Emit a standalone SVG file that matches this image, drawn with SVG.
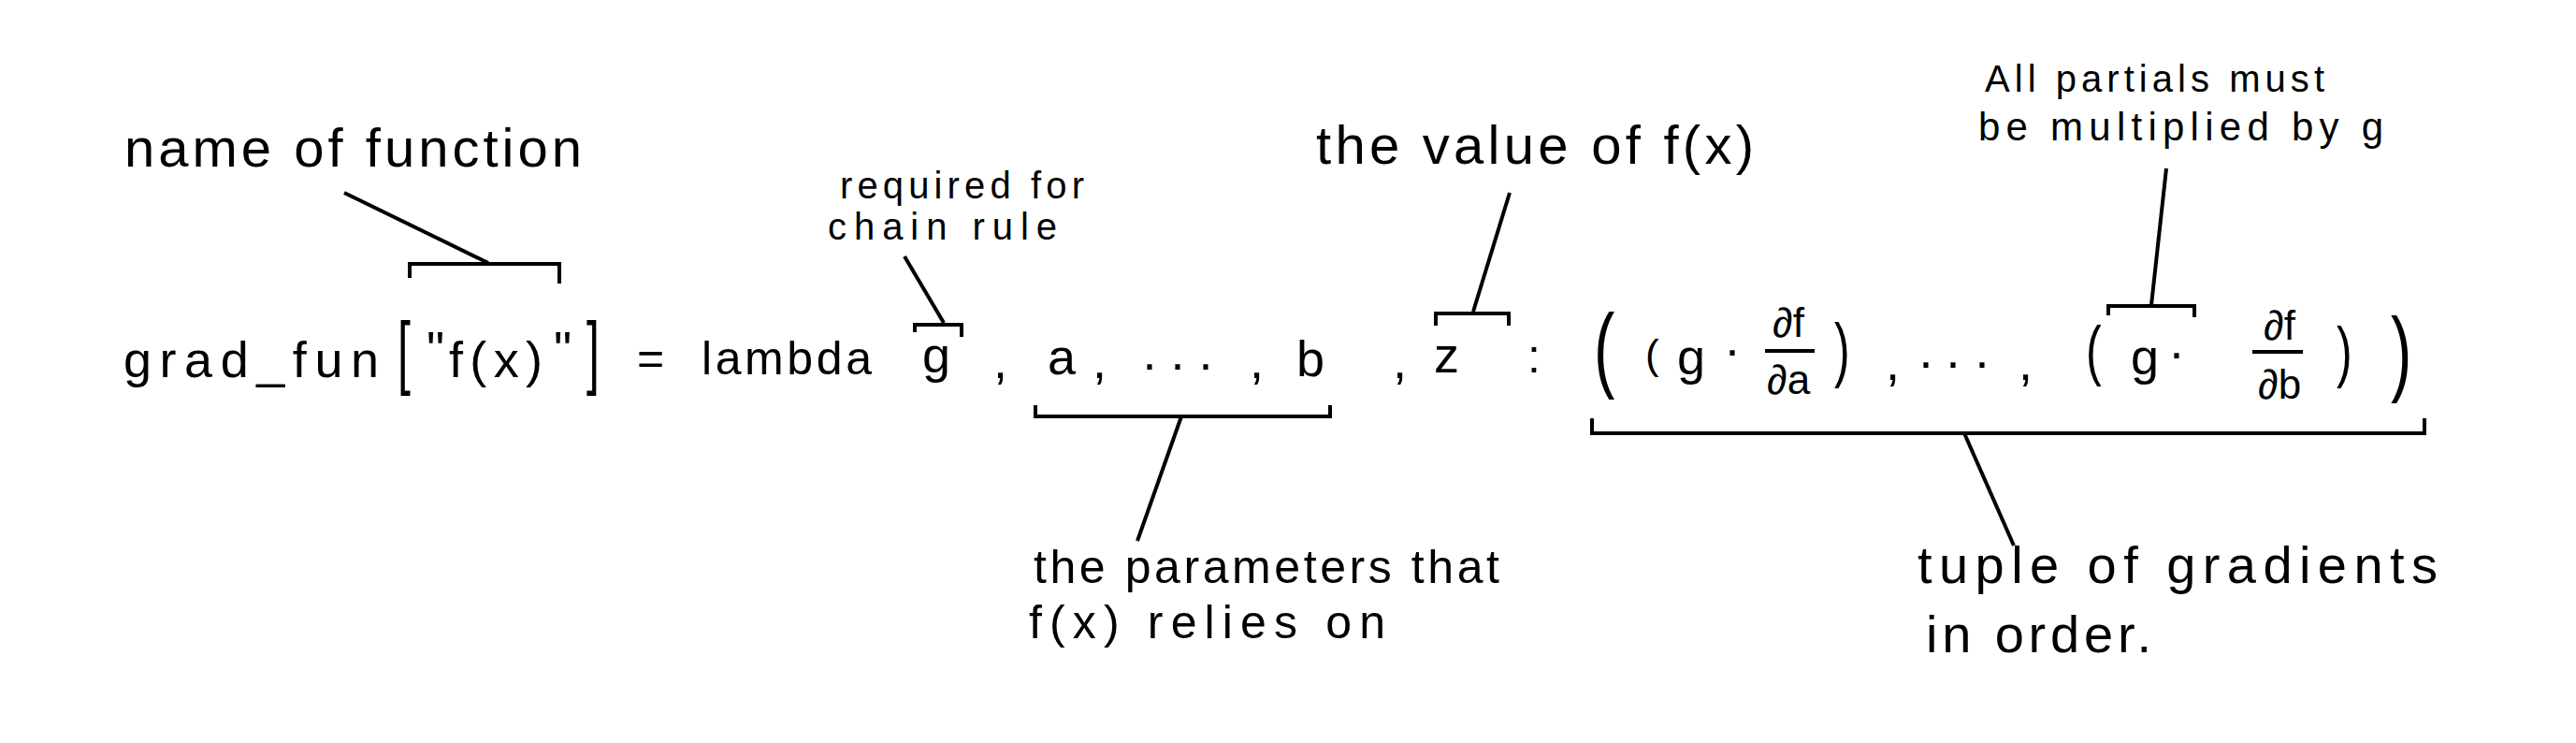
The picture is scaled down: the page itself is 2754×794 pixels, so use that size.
<svg xmlns="http://www.w3.org/2000/svg" width="2754" height="794" viewBox="0 0 2754 794">
<style>
.t{font-family:"Liberation Sans",Arial,sans-serif;fill:#000;}
.f{font-size:54px;}
.ln{stroke:#000;stroke-width:4;fill:none;stroke-linejoin:miter;}
.bar{stroke:#000;stroke-width:4;}
</style>
<rect width="2754" height="794" fill="#fff"/>
<g id="label-name">
<text class="t" x="133" y="178" font-size="58" textLength="489" lengthAdjust="spacing">name of function</text>
</g>
<g id="label-chain">
<text class="t" x="898" y="212" font-size="40" textLength="261" lengthAdjust="spacing">required for</text>
<text class="t" x="885" y="256" font-size="40" textLength="245" lengthAdjust="spacing">chain rule</text>
</g>
<g id="label-value">
<text class="t" x="1407" y="175" font-size="58" textLength="468" lengthAdjust="spacing">the value of f(x)</text>
</g>
<g id="label-partials">
<text class="t" x="2122" y="98" font-size="40" textLength="363" lengthAdjust="spacing">All partials must</text>
<text class="t" x="2115" y="150" font-size="42" textLength="433" lengthAdjust="spacing">be multiplied by g</text>
</g>
<g id="label-params">
<text class="t" x="1105" y="623" font-size="50" textLength="498" lengthAdjust="spacing">the parameters that</text>
<text class="t" x="1100" y="682" font-size="50" textLength="381" lengthAdjust="spacing">f(x) relies on</text>
</g>
<g id="label-tuple">
<text class="t" x="2050" y="623" font-size="56" textLength="556" lengthAdjust="spacing">tuple of gradients</text>
<text class="t" x="2059" y="697" font-size="56" textLength="241" lengthAdjust="spacing">in order.</text>
</g>
<g id="formula">
<text class="t f" x="132" y="403" textLength="273" lengthAdjust="spacing">grad_fun</text>
<text class="t" transform="translate(425 405) scale(1 1.75)" font-size="50">[</text>
<text class="t" x="456" y="392" font-size="54">"</text>
<text class="t f" x="480" y="403" textLength="100" lengthAdjust="spacing">f(x)</text>
<text class="t" x="592" y="392" font-size="54">"</text>
<text class="t" transform="translate(627 405) scale(1 1.75)" font-size="50">]</text>
<text class="t" x="681" y="400" font-size="50">=</text>
<text class="t" x="750" y="400" font-size="50" textLength="182" lengthAdjust="spacing">lambda</text>
<text class="t f" x="986" y="398">g</text>
<text class="t f" x="1062" y="404">,</text>
<text class="t f" x="1120" y="400">a</text>
<text class="t f" x="1168" y="404">,</text>
<text class="t f" x="1220 1250 1280" y="407">···</text>
<text class="t f" x="1336" y="404">,</text>
<text class="t f" x="1386" y="402">b</text>
<text class="t f" x="1489" y="404">,</text>
<text class="t f" x="1533" y="398">z</text>
<text class="t" x="1633" y="398" font-size="50">:</text>
<text class="t" transform="translate(1704 406) scale(1.2 1.79)" font-size="56">(</text>
<text class="t" x="1759" y="394" font-size="44">(</text>
<text class="t f" x="1793" y="400">g</text>
<text class="t f" x="1843" y="392">·</text>
<text class="t" x="1912" y="360" font-size="44" text-anchor="middle">∂f</text>
<line class="bar" x1="1887" y1="375" x2="1940" y2="375"/>
<text class="t" x="1912" y="421" font-size="44" text-anchor="middle">∂a</text>
<text class="t" transform="translate(1961 399) scale(1 1.53)" font-size="50">)</text>
<text class="t f" x="2016" y="406">,</text>
<text class="t f" x="2050 2079 2110" y="405">···</text>
<text class="t f" x="2158" y="406">,</text>
<text class="t" transform="translate(2230 398) scale(1 1.4)" font-size="50">(</text>
<text class="t f" x="2278" y="400">g</text>
<text class="t f" x="2318" y="395">·</text>
<text class="t" x="2437" y="363" font-size="44" text-anchor="middle">∂f</text>
<line class="bar" x1="2408" y1="376" x2="2462" y2="376"/>
<text class="t" x="2437" y="426" font-size="44" text-anchor="middle">∂b</text>
<text class="t" transform="translate(2498 400) scale(1 1.43)" font-size="50">)</text>
<text class="t" transform="translate(2556 410) scale(1.2 1.79)" font-size="56">)</text>
</g>
<g id="connectors">
<path class="ln" d="M438 297 V282 H598 V303"/>
<path class="ln" d="M368 206 L522 281"/>
<path class="ln" d="M978 355 V347 H1028 V360"/>
<path class="ln" d="M967 274 L1009 345"/>
<path class="ln" d="M1107 433 V445 H1422 V433"/>
<path class="ln" d="M1263 445 L1216 578"/>
<path class="ln" d="M1535 348 V335 H1613 V348"/>
<path class="ln" d="M1614 206 L1575 333"/>
<path class="ln" d="M2254 337 V327 H2346 V339"/>
<path class="ln" d="M2316 180 L2300 326"/>
<path class="ln" d="M1702 447 V463 H2592 V447"/>
<path class="ln" d="M2100 463 L2153 583"/>
</g>
</svg>
